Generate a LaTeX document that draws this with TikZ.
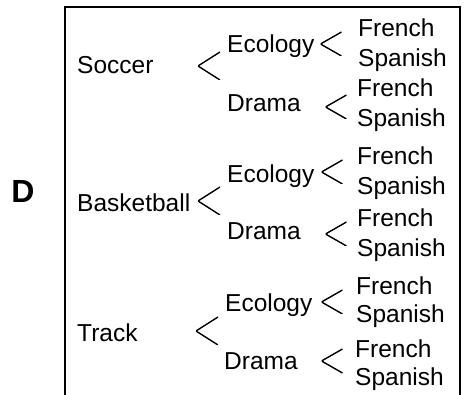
\documentclass[tikz,border=0pt]{standalone}
\usepackage{fontspec}
\setmainfont{Liberation Sans}
\usepackage{tikz}
\usetikzlibrary{positioning}
\tikzset{
  optlabel/.style={inner sep=0pt,anchor=base west,font=\fontsize{24.5}{30}\selectfont},
  optfork/.style={inner sep=0pt,minimum width=21pt,minimum height=24pt,
    path picture={\draw[line width=1.4pt,line cap=butt]
      (path picture bounding box.north east) -- (path picture bounding box.west)
      -- (path picture bounding box.south east);}},
  optbig/.style={optfork,minimum width=22pt,minimum height=28pt},
}
\begin{document}
\begin{tikzpicture}[x=1pt,y=-1pt]
\useasboundingbox (0,0) rectangle (466,395);
% frame, open at the bottom
\coordinate (bl) at (65,396);
\coordinate (br) at (460,396);
\draw[line width=2.2pt] (bl) -- (65,7) -- (460,7) -- (br);
\node[font=\fontsize{32}{32}\selectfont\bfseries] (d) at (23,191) {D};
% first branch
\node[optlabel] (soccer) at (77,74) {Soccer};
\node[optbig] (k1) at (209,66) {};
\node[optlabel] (eco1) at (227,53) {Ecology};
\node[optfork] (k11) at (331,44) {};
\node[optlabel] (fr1) at (358,37) {French};
\node[optlabel] (sp1) at (358,67) {Spanish};
\node[optlabel] (dra1) at (227,112) {Drama};
\node[optfork] (k12) at (336,107) {};
\node[optlabel] (fr2) at (357,97) {French};
\node[optlabel] (sp2) at (357,127) {Spanish};
% second branch
\node[optlabel] (bask) at (77,212) {Basketball};
\node[optbig] (k2) at (209,201) {};
\node[optlabel] (eco2) at (227,183) {Ecology};
\node[optfork] (k21) at (332,172) {};
\node[optlabel] (fr3) at (357,165) {French};
\node[optlabel] (sp3) at (357,195) {Spanish};
\node[optlabel] (dra2) at (227,240) {Drama};
\node[optfork] (k22) at (336,234) {};
\node[optlabel] (fr4) at (357,227) {French};
\node[optlabel] (sp4) at (357,257) {Spanish};
% third branch
\node[optlabel] (track) at (77,342) {Track};
\node[optbig] (k3) at (207,331) {};
\node[optlabel] (eco3) at (225,312) {Ecology};
\node[optfork] (k31) at (332,302) {};
\node[optlabel] (fr5) at (356,295) {French};
\node[optlabel] (sp5) at (356,323) {Spanish};
\node[optlabel] (dra3) at (224,370) {Drama};
\node[optfork] (k32) at (332,361) {};
\node[optlabel] (fr6) at (355,357) {French};
\node[optlabel] (sp6) at (355,385) {Spanish};
\end{tikzpicture}
\end{document}
